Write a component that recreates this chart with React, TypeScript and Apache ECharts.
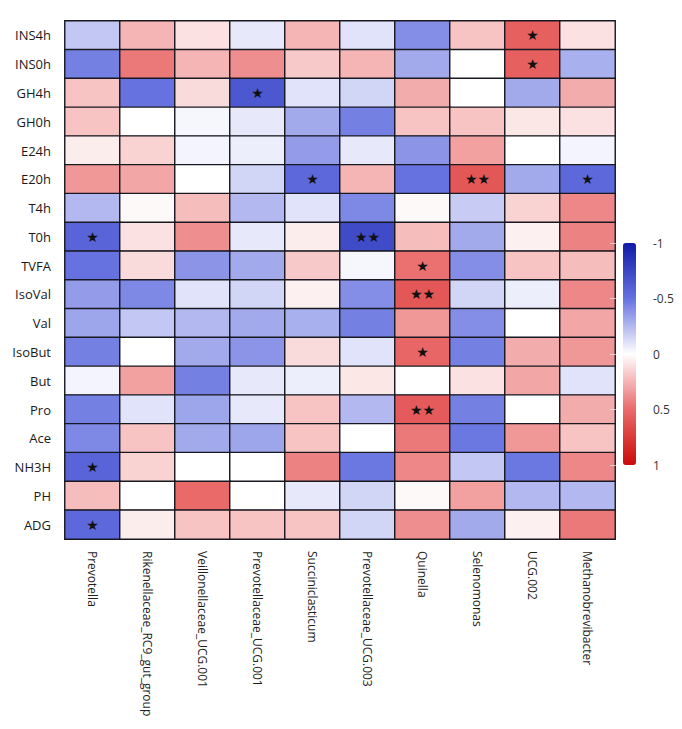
import React, { useEffect, useRef } from "react";
import * as echarts from "echarts";

const genera = [
  "Prevotella",
  "Rikenellaceae_RC9_gut_group",
  "Veillonellaceae_UCG.001",
  "Prevotellaceae_UCG.001",
  "Succiniclasticum",
  "Prevotellaceae_UCG.003",
  "Quinella",
  "Selenomonas",
  "UCG.002",
  "Methanobrevibacter",
];

const traits = [
  "INS4h", "INS0h", "GH4h", "GH0h", "E24h", "E20h", "T4h", "T0h", "TVFA",
  "IsoVal", "Val", "IsoBut", "But", "Pro", "Ace", "NH3H", "PH", "ADG",
];

// correlation values, one row per trait (top to bottom), columns follow genera
const INS4h = [-0.2, 0.25, 0.1, -0.08, 0.25, -0.1, -0.4, 0.2, 0.55, 0.1];
const INS0h = [-0.45, 0.45, 0.25, 0.38, 0.18, 0.25, -0.3, 0.0, 0.55, -0.28];
const GH4h = [0.2, -0.5, 0.12, -0.65, -0.1, -0.15, 0.28, 0.0, -0.3, 0.28];
const GH0h = [0.2, 0.0, -0.03, -0.08, -0.3, -0.45, 0.2, 0.2, 0.08, 0.1];
const E24h = [0.06, 0.15, -0.04, -0.06, -0.35, -0.08, -0.38, 0.32, 0.0, -0.04];
const E20h = [0.35, 0.3, 0.0, -0.15, -0.55, 0.25, -0.5, 0.6, -0.3, -0.55];
const T4h = [-0.25, 0.02, 0.22, -0.25, -0.1, -0.42, 0.02, -0.18, 0.15, 0.4];
const T0h = [-0.58, 0.1, 0.38, -0.08, 0.06, -0.72, 0.22, -0.3, 0.05, 0.42];
const TVFA = [-0.5, 0.12, -0.38, -0.3, 0.18, -0.03, 0.48, -0.4, 0.2, 0.22];
const IsoVal = [-0.35, -0.42, -0.1, -0.15, 0.05, -0.4, 0.6, -0.15, -0.06, 0.4];
const Val = [-0.32, -0.2, -0.25, -0.3, -0.28, -0.45, 0.35, -0.4, 0.0, 0.3];
const IsoBut = [-0.45, 0.0, -0.3, -0.38, 0.12, -0.1, 0.52, -0.45, 0.28, 0.35];
const But = [-0.04, 0.32, -0.45, -0.08, -0.06, 0.08, 0.0, 0.1, 0.3, -0.1];
const Pro = [-0.45, -0.1, -0.32, -0.08, 0.2, -0.25, 0.58, -0.45, 0.0, 0.28];
const Ace = [-0.42, 0.2, -0.3, -0.32, 0.2, 0.0, 0.45, -0.48, 0.35, 0.2];
const NH3H = [-0.58, 0.15, 0.0, 0.0, 0.42, -0.48, 0.4, -0.2, -0.48, 0.4];
const PH = [0.22, 0.0, 0.5, 0.0, -0.08, -0.15, 0.02, 0.32, -0.25, -0.25];
const ADG = [-0.55, 0.06, 0.2, 0.2, 0.2, -0.15, 0.38, -0.3, 0.05, 0.45];

const valueRows = [
  INS4h, INS0h, GH4h, GH0h, E24h, E20h, T4h, T0h, TVFA,
  IsoVal, Val, IsoBut, But, Pro, Ace, NH3H, PH, ADG,
];

// significance marks: [trait, genus, mark]
const significance: [string, string, string][] = [
  ["INS4h", "UCG.002", "★"],
  ["INS0h", "UCG.002", "★"],
  ["GH4h", "Prevotellaceae_UCG.001", "★"],
  ["E20h", "Succiniclasticum", "★"],
  ["E20h", "Selenomonas", "★★"],
  ["E20h", "Methanobrevibacter", "★"],
  ["T0h", "Prevotella", "★"],
  ["T0h", "Prevotellaceae_UCG.003", "★★"],
  ["TVFA", "Quinella", "★"],
  ["IsoVal", "Quinella", "★★"],
  ["IsoBut", "Quinella", "★"],
  ["Pro", "Quinella", "★★"],
  ["NH3H", "Prevotella", "★"],
  ["ADG", "Prevotella", "★"],
];

const scaleTicks = [-1, -0.5, 0, 0.5, 1];

export default function App() {
  const ref = useRef<HTMLDivElement>(null);

  useEffect(() => {
    if (!ref.current) return;
    const chart = echarts.init(ref.current, undefined, { renderer: "svg" });

    const sigMap: Record<string, string> = {};
    significance.forEach(([t, g, m]) => {
      sigMap[t + "|" + g] = m;
    });

    const data: any[] = [];
    traits.forEach((t, r) => {
      genera.forEach((g, c) => {
        data.push([c, r, valueRows[r][c], sigMap[t + "|" + g] || ""]);
      });
    });

    const font = "'Open Sans', 'DejaVu Sans', sans-serif";

    chart.setOption({
      animation: false,
      backgroundColor: "#ffffff",
      grid: [
        { left: 57, right: 75, top: 13, bottom: 198 },
        { left: 615, top: 235, width: 13, height: 222 },
      ],
      xAxis: [
        {
          type: "category",
          data: genera,
          gridIndex: 0,
          axisLine: { show: false },
          axisTick: { show: false },
          splitLine: { show: false },
          axisLabel: {
            rotate: -90,
            interval: 0,
            margin: 12,
            fontSize: 12,
            color: "#1e1e1e",
            fontFamily: font,
          },
        },
        {
          type: "value",
          gridIndex: 1,
          show: false,
          min: 0,
          max: 1,
        },
      ],
      yAxis: [
        {
          type: "category",
          data: traits,
          inverse: true,
          gridIndex: 0,
          axisLine: { show: false },
          axisTick: { show: false },
          splitLine: { show: false },
          axisLabel: {
            interval: 0,
            margin: 14,
            fontSize: 13,
            color: "#1a1a1a",
            fontFamily: font,
          },
        },
        {
          type: "value",
          gridIndex: 1,
          position: "right",
          inverse: true,
          min: scaleTicks[0],
          max: scaleTicks[scaleTicks.length - 1],
          interval: 0.5,
          z: 10,
          axisLine: { show: false },
          splitLine: { show: false },
          axisTick: {
            show: true,
            inside: true,
            length: 13,
            lineStyle: { color: "rgba(255,255,255,0.6)", width: 1 },
          },
          axisLabel: {
            margin: 17,
            fontSize: 12,
            color: "#333",
            fontFamily: font,
            formatter: (v: number) => (scaleTicks.includes(v) ? String(v) : ""),
          },
        },
      ],
      visualMap: {
        type: "continuous",
        min: -1,
        max: 1,
        dimension: 2,
        seriesIndex: 0,
        inverse: true,
        calculable: false,
        orient: "vertical",
        left: 615,
        top: 235,
        itemWidth: 13,
        itemHeight: 222,
        text: ["", ""],
        padding: 0,
        inRange: {
          color: ["#0f1aa8", "#6672e0", "#ffffff", "#ea6a6a", "#cc0a0a"],
        },
      },
      series: [
        {
          type: "heatmap",
          xAxisIndex: 0,
          yAxisIndex: 0,
          data,
          itemStyle: { borderColor: "#181820", borderWidth: 1.4 },
          emphasis: { disabled: true },
          label: {
            show: true,
            formatter: (p: any) => p.data[3],
            fontSize: 14,
            color: "#111",
            fontFamily: "'DejaVu Sans', sans-serif",
          },
        },
      ],
    });

    return () => chart.dispose();
  }, []);

  return <div ref={ref} style={{ width: 682, height: 729 }} />;
}
